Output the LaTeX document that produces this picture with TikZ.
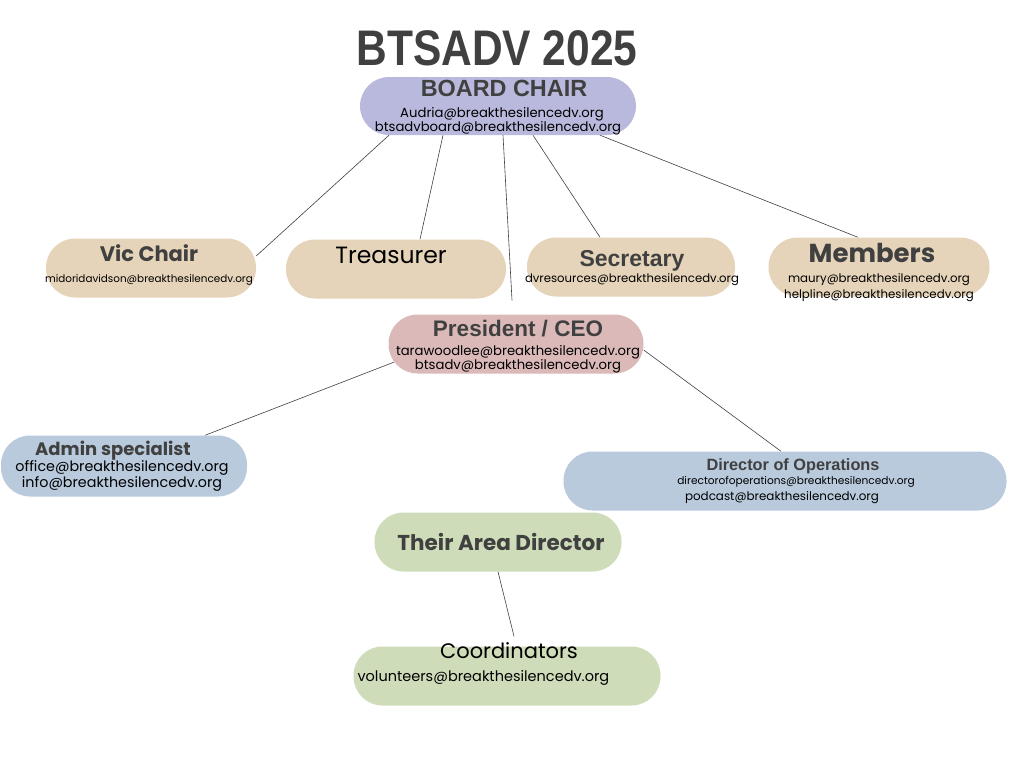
\documentclass[tikz,border=0pt]{standalone}
\usepackage{fontspec}
\setmainfont{Poppins}
\newfontfamily\robo{Liberation Sans}
\usetikzlibrary{backgrounds}
\definecolor{lavender}{HTML}{B9B9DD}
\definecolor{sand}{HTML}{E5D4B9}
\definecolor{rose}{HTML}{DBB9B9}
\definecolor{steel}{HTML}{B9CADD}
\definecolor{sage}{HTML}{CFDCB9}
\definecolor{ink}{HTML}{404040}
\begin{document}
\begin{tikzpicture}[x=1pt,y=-1pt,
  pill/.style={rectangle,rounded corners=29pt,inner sep=0pt,minimum height=59pt},
  words/.style={align=center,inner sep=0pt},
  mail/.style={font=\fontsize{#1}{14.5}\selectfont},
  link/.style={draw=black!75,line width=0.6pt}]
\useasboundingbox (0,0) rectangle (1024,768);
\node[font=\robo\bfseries\fontsize{50}{50}\selectfont,text=ink] (title) at (497,48) {\scalebox{0.85}[1]{BTSADV 2025}};
\node[pill,fill=lavender,minimum width=276pt,minimum height=58pt] (board) at (498,106) {};
\node[words,mail=13.2] (boardtext) at (498,108)
  {{\robo\bfseries\fontsize{23.4}{23.4}\selectfont\color{ink}\hspace*{12pt}BOARD CHAIR}\\[6pt]
   \hspace*{8pt}Audria@breakthesilencedv.org\\btsadvboard@breakthesilencedv.org};
\node[pill,fill=sand,minimum width=210pt] (vic) at (151,268) {};
\node[words,mail=10.4] (victext) at (149,265)
  {{\bfseries\fontsize{21}{21}\selectfont\color{ink}Vic Chair}\\[6pt]midoridavidson@breakthesilencedv.org};
\node[pill,fill=sand,minimum width=220pt] (treas) at (396,269) {};
\node[font=\fontsize{23.5}{23.5}\selectfont] (treastext) at (391,255) {Treasurer};
\node[pill,fill=sand,minimum width=208pt] (sec) at (631,267) {};
\node[words,mail=11.7] (sectext) at (632,268)
  {{\robo\bfseries\fontsize{23}{23}\selectfont\color{ink}Secretary}\\[1pt]dvresources@breakthesilencedv.org};
\node[pill,fill=sand,minimum width=221pt] (mem) at (879,267) {};
\node[words,font=\fontsize{11.8}{16}\selectfont] (memtext) at (879,272)
  {{\bfseries\fontsize{26}{26}\selectfont\color{ink}\hspace*{-14pt}Members}\\[4pt]maury@breakthesilencedv.org\\helpline@breakthesilencedv.org};
\node[pill,fill=rose,minimum width=255pt] (pres) at (516,344) {};
\node[words,mail=13.2] (prestext) at (518,347)
  {{\robo\bfseries\fontsize{22.5}{22.5}\selectfont\color{ink}President / CEO}\\[4pt]tarawoodlee@breakthesilencedv.org\\btsadv@breakthesilencedv.org};
\node[pill,fill=steel,minimum width=246pt,minimum height=61pt] (admin) at (124,466) {};
\node[words,mail=14.3] (admintext) at (122,466)
  {{\bfseries\fontsize{18}{18}\selectfont\color{ink}Admin specialist\hspace*{18pt}}\\office@breakthesilencedv.org\\info@breakthesilencedv.org};
\node[pill,fill=steel,minimum width=443pt] (ops) at (785,481) {};
\node[words,mail=10.6] (opstext) at (785,481)
  {{\robo\bfseries\fontsize{16.3}{16.3}\selectfont\color{ink}\hspace*{16pt}Director of Operations}\\\hspace*{22pt}directorofoperations@breakthesilencedv.org\\[1pt]
   {\fontsize{11.9}{14.5}\selectfont\hspace*{-6pt}podcast@breakthesilencedv.org}};
\node[pill,fill=sage,minimum width=247pt] (area) at (498,542) {};
\node[font=\bfseries\fontsize{21.5}{21.5}\selectfont,text=ink] (areatext) at (501,542) {Their Area Director};
\node[pill,fill=sage,minimum width=307pt] (coord) at (507,676) {};
\node[font=\fontsize{21}{21}\selectfont] (coordtext) at (509,651) {Coordinators};
\node[anchor=west,mail=14.5] (coordmail) at (354,678) {volunteers@breakthesilencedv.org};
\begin{scope}[on background layer]
\fill[white] (0,0) rectangle (1024,768);
\draw[link] ([xshift=-109pt]board.south) -- ([yshift=12pt]vic.east);
\draw[link] ([xshift=-55pt]board.south) -- ([xshift=24pt]treas.north);
\draw[link] ([xshift=5pt]board.south) -- ([xshift=-4pt,yshift=14pt]pres.north);
\draw[link] ([xshift=35pt]board.south) -- ([xshift=-31pt]sec.north);
\draw[link] ([xshift=102pt]board.south) -- ([xshift=-21pt]mem.north);
\draw[link] ([xshift=6pt,yshift=-18pt]pres.west) -- ([xshift=81pt]admin.north);
\draw[link] ([yshift=-6pt]pres.east) -- ([xshift=-4pt]ops.north);
\draw[link] (area.south) -- ([xshift=7pt,yshift=10pt]coord.north);
\end{scope}
\end{tikzpicture}
\end{document}
